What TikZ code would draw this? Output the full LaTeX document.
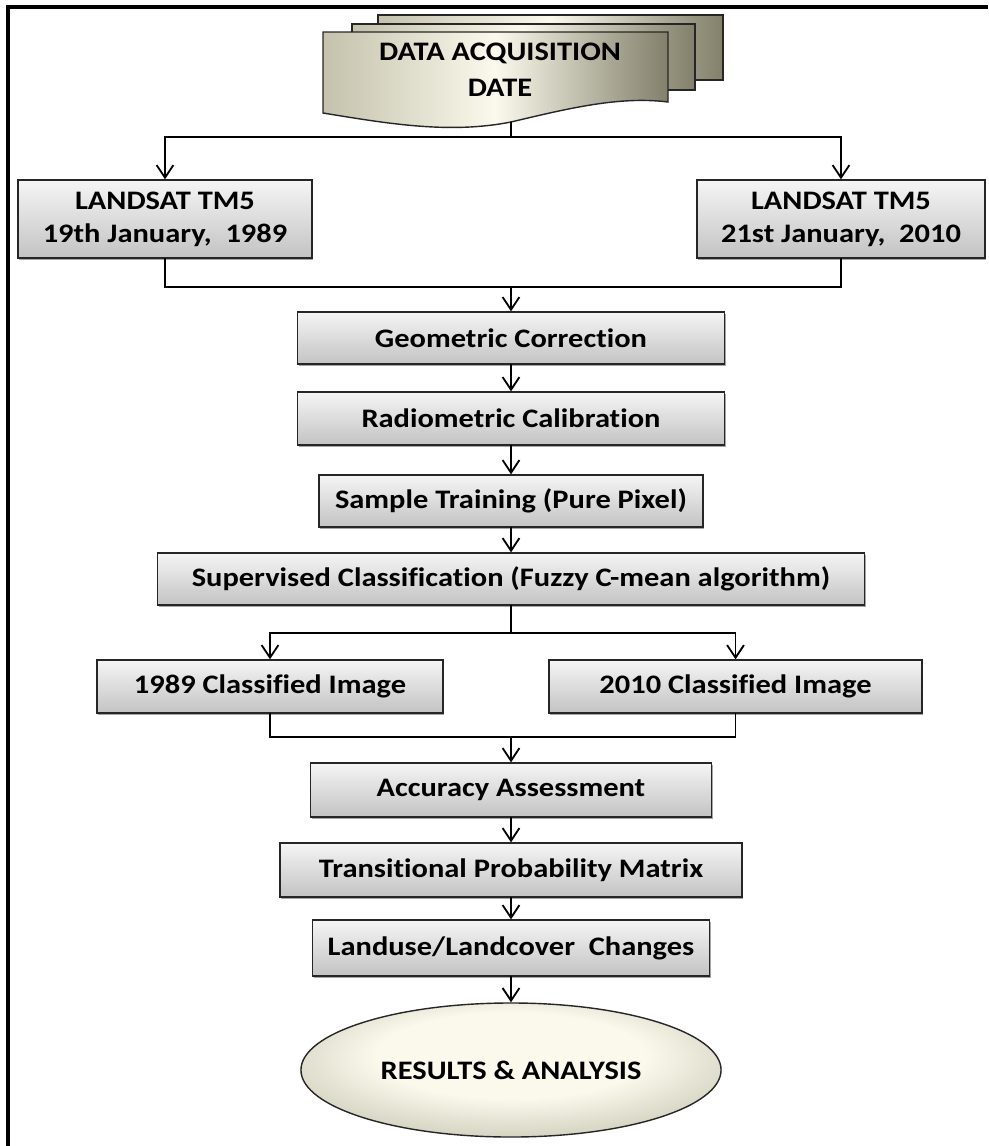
\documentclass[tikz,border=0pt]{standalone}
\usepackage{fontspec}
\setmainfont{Carlito}[FakeStretch=1.14, Ligatures=NoCommon]
\usepackage{tikz}
\usetikzlibrary{arrows.meta, calc, shadows, shapes.geometric, positioning}
\definecolor{boxTop}{RGB}{245,245,245}
\definecolor{boxBot}{RGB}{195,195,195}
\definecolor{docLight}{RGB}{250,249,236}
\definecolor{docMid}{RGB}{196,194,172}
\definecolor{docDark}{RGB}{130,128,106}
\definecolor{ovalEdge}{RGB}{168,166,142}
\pgfdeclareradialshading{ovalShade}{\pgfpoint{0bp}{8bp}}{color(0bp)=(docLight); color(16bp)=(docLight); color(44bp)=(ovalEdge); color(50bp)=(ovalEdge)}

\begin{document}
\begin{tikzpicture}[x=0.025cm, y=-0.025cm, line cap=round,
		stepbox/.style={draw=black!85, line width=0.9pt, top color=boxTop, bottom color=boxBot,
			font=\fontsize{19}{23.4}\selectfont\bfseries, align=center, inner sep=0pt,
			drop shadow={shadow xshift=1pt, shadow yshift=-1.2pt, opacity=0.35, fill=black}},
		doc/.style={draw=black!85, line width=1pt, left color=docMid, right color=docDark, middle color=docLight},
		link/.style={line width=1.3pt},
		arr/.style={link, -{Straight Barb[length=9pt, width=12pt]}}]
	\useasboundingbox (0,0) rectangle (988,1146);
	\draw[line width=3pt, line cap=butt] (988,7) -- (8,7) -- (8,1146);

	% stacked documents
	\path[doc] (378,15) rectangle (723,80);
	\path[doc] (352,24) rectangle (695,90);
	\path[doc] (323,32) -- (668,32) -- (668,102) .. controls (620,96) and (570,108) .. (511,122)
		.. controls (450,134) and (390,124) .. (323,113) -- cycle;
	\node[font=\fontsize{19}{25.5}\selectfont\bfseries, align=center] (acq) at (500,70) {DATA ACQUISITION\\DATE};
	\coordinate (docbot) at (511,122);

	\node[stepbox, minimum width=7.35cm, minimum height=1.95cm] (ls1) at (165,219) {LANDSAT TM5\\19th January,~ 1989};
	\node[stepbox, minimum width=7.2cm, minimum height=1.95cm] (ls2) at (841,219) {LANDSAT TM5\\21st January,~ 2010};
	\node[stepbox, minimum width=10.675cm, minimum height=1.3cm] (geo) at (511,338) {Geometric Correction};
	\node[stepbox, minimum width=10.675cm, minimum height=1.325cm] (radio) at (511,418.5) {Radiometric Calibration};
	\node[stepbox, minimum width=9.6cm, minimum height=1.3cm] (sample) at (511,501) {Sample Training (Pure Pixel)};
	\node[stepbox, minimum width=17.675cm, minimum height=1.3cm] (super) at (511,579) {Supervised Classification (Fuzzy C-mean algorithm)};
	\node[stepbox, minimum width=8.65cm, minimum height=1.325cm] (c1989) at (270,686.5) {1989 Classified Image};
	\node[stepbox, minimum width=9.325cm, minimum height=1.325cm] (c2010) at (735.5,686.5) {2010 Classified Image};
	\node[stepbox, minimum width=10.025cm, minimum height=1.35cm] (acc) at (511,790) {Accuracy Assessment};
	\node[stepbox, minimum width=11.55cm, minimum height=1.35cm] (trans) at (511,870) {Transitional Probability Matrix};
	\node[stepbox, minimum width=9.925cm, minimum height=1.4cm] (land) at (511,948) {Landuse/Landcover~ Changes};
	\node[ellipse, draw=black!85, line width=1pt, shading=ovalShade,
		minimum width=10.5cm, minimum height=3.35cm, font=\fontsize{19}{23.4}\selectfont\bfseries] (res) at (511,1070) {RESULTS \& ANALYSIS};

	\coordinate (j1) at (511,137);
	\coordinate (j2) at (511,287);
	\coordinate (j3) at (511,633);
	\coordinate (j4) at (511,737);

	\draw[link] (docbot) -- (j1);
	\draw[arr] (j1) -| (ls1.north);
	\draw[arr] (j1) -| (ls2.north);
	\draw[link] (ls1.south) |- (j2);
	\draw[link] (ls2.south) |- (j2);
	\draw[arr] (j2) -- (geo.north);
	\foreach \a/\b in {geo/radio, radio/sample, sample/super, acc/trans, trans/land, land/res}
		\draw[arr] (\a.south) -- (\b.north);
	\draw[link] (super.south) -- (j3);
	\draw[arr] (j3) -| (c1989.north);
	\draw[arr] (j3) -| (c2010.north);
	\draw[link] (c1989.south) |- (j4);
	\draw[link] (c2010.south) |- (j4);
	\draw[arr] (j4) -- (acc.north);
\end{tikzpicture}
\end{document}
